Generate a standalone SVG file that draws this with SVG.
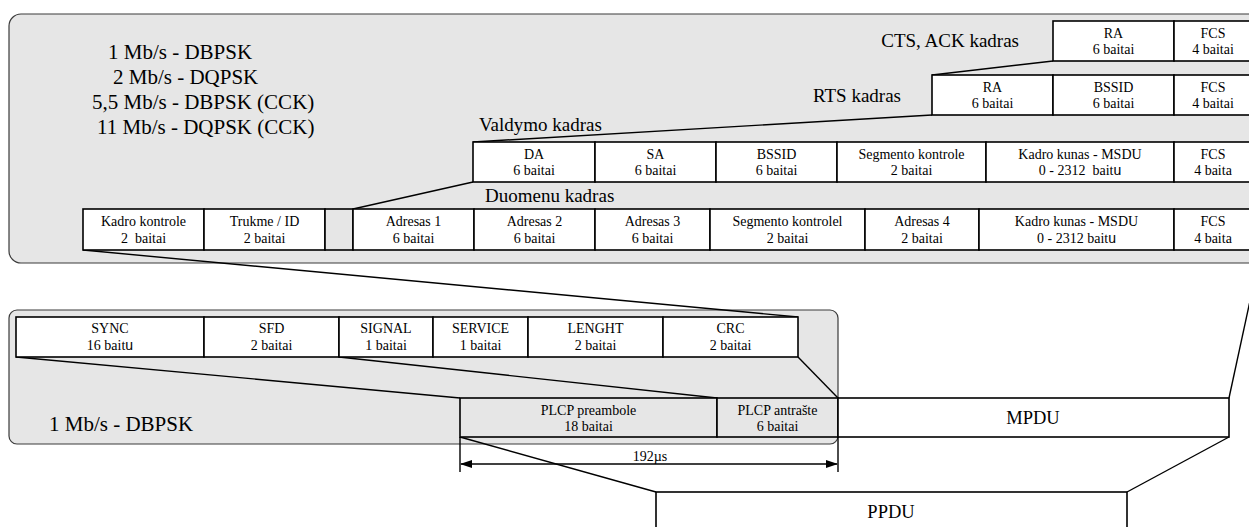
<svg xmlns="http://www.w3.org/2000/svg" width="1249" height="527" viewBox="0 0 1249 527">
<defs>
<style>
.panel{fill:#e6e6e6;stroke:#3a3a3a;stroke-width:1.2}
.box{fill:#ffffff;stroke:#000;stroke-width:1.6}
.gbox{fill:#e6e6e6;stroke:#000;stroke-width:1.6}
.ln{fill:none;stroke:#000;stroke-width:1.4}
text{font-family:"Liberation Serif","Times New Roman",serif;fill:#000}
.t{font-size:14px;text-anchor:middle}
.lbl{font-size:19px}
.big{font-size:21px}
.mid{font-size:18.5px;text-anchor:middle}
.u{font-family:"Liberation Sans",Arial,sans-serif}
</style>
<marker id="arr" markerWidth="12" markerHeight="8" refX="11" refY="4" orient="auto-start-reverse" markerUnits="userSpaceOnUse">
<path d="M0,0 L12,4 L0,8 Z" fill="#000"/>
</marker>
</defs>

<g id="panel-top">
<rect class="panel" x="9" y="14" width="1290" height="249" rx="12"/>
<text class="big" x="108" y="59">1 Mb/s - DBPSK</text>
<text class="big" x="113" y="84">2 Mb/s - DQPSK</text>
<text class="big" x="92" y="109">5,5 Mb/s - DBPSK (CCK)</text>
<text class="big" x="97" y="134">11 Mb/s - DQPSK (CCK)</text>
</g>
<g id="panel-bottom">
<rect class="panel" x="9" y="310" width="829" height="134" rx="8"/>
<text class="big" x="49" y="431">1 Mb/s - DBPSK</text>
</g>

<g id="connectors">
<line class="ln" x1="1053" y1="61" x2="932" y2="75"/>
<line class="ln" x1="932" y1="115" x2="473" y2="142"/>
<line class="ln" x1="473" y1="182" x2="353" y2="209"/>
<line class="ln" x1="83" y1="250" x2="798" y2="317"/>
<line class="ln" x1="16" y1="357" x2="460" y2="398"/>
<line class="ln" x1="339" y1="357" x2="717" y2="398"/>
<line class="ln" x1="798" y1="357" x2="838" y2="398"/>
<line class="ln" x1="1261" y1="250" x2="1229" y2="398"/>
<line class="ln" x1="460" y1="437" x2="656" y2="492"/>
<line class="ln" x1="1229" y1="437" x2="1127" y2="492"/>
</g>

<g id="cts-frame">
<text class="lbl" x="1019" y="47" text-anchor="end">CTS, ACK kadras</text>
<rect class="box" x="1053" y="21" width="121" height="40"/>
<text class="t" x="1113.5" y="38">RA</text><text class="t" x="1113.5" y="54">6 baitai</text>
<rect class="box" x="1174" y="21" width="90" height="40"/>
<text class="t" x="1213" y="38">FCS</text><text class="t" x="1213" y="54">4 baitai</text>
</g>

<g id="rts-frame">
<text class="lbl" x="901" y="102" text-anchor="end">RTS kadras</text>
<rect class="box" x="932" y="75" width="121" height="40"/>
<text class="t" x="992.5" y="92">RA</text><text class="t" x="992.5" y="108">6 baitai</text>
<rect class="box" x="1053" y="75" width="121" height="40"/>
<text class="t" x="1113.5" y="92">BSSID</text><text class="t" x="1113.5" y="108">6 baitai</text>
<rect class="box" x="1174" y="75" width="90" height="40"/>
<text class="t" x="1213" y="92">FCS</text><text class="t" x="1213" y="108">4 baitai</text>
</g>

<g id="valdymo-frame">
<text class="lbl" x="479" y="131">Valdymo kadras</text>
<rect class="box" x="473" y="142" width="122" height="40"/>
<text class="t" x="534" y="159">DA</text><text class="t" x="534" y="175">6 baitai</text>
<rect class="box" x="595" y="142" width="121" height="40"/>
<text class="t" x="655.5" y="159">SA</text><text class="t" x="655.5" y="175">6 baitai</text>
<rect class="box" x="716" y="142" width="121" height="40"/>
<text class="t" x="776.5" y="159">BSSID</text><text class="t" x="776.5" y="175">6 baitai</text>
<rect class="box" x="837" y="142" width="149" height="40"/>
<text class="t" x="911.5" y="159">Segmento kontrole</text><text class="t" x="911.5" y="175">2 baitai</text>
<rect class="box" x="986" y="142" width="188" height="40"/>
<text class="t" x="1080" y="159">Kadro kunas - MSDU</text><text class="t" x="1080" y="175" xml:space="preserve">0 - 2312  bait<tspan class="u">u</tspan></text>
<rect class="box" x="1174" y="142" width="90" height="40"/>
<text class="t" x="1213" y="159">FCS</text><text class="t" x="1213" y="175">4 baita</text>
</g>

<g id="duomenu-frame">
<text class="lbl" x="485" y="202">Duomenu kadras</text>
<rect class="box" x="83" y="209" width="121" height="41"/>
<text class="t" x="143.5" y="226">Kadro kontrole</text><text class="t" x="143.5" y="243" xml:space="preserve">2  baitai</text>
<rect class="box" x="204" y="209" width="121" height="41"/>
<text class="t" x="264.5" y="226">Trukme / ID</text><text class="t" x="264.5" y="243">2 baitai</text>
<rect class="gbox" x="325" y="209" width="28" height="41"/>
<rect class="box" x="353" y="209" width="121" height="41"/>
<text class="t" x="413.5" y="226">Adresas 1</text><text class="t" x="413.5" y="243">6 baitai</text>
<rect class="box" x="474" y="209" width="121" height="41"/>
<text class="t" x="534.5" y="226">Adresas 2</text><text class="t" x="534.5" y="243">6 baitai</text>
<rect class="box" x="595" y="209" width="115" height="41"/>
<text class="t" x="652.5" y="226">Adresas 3</text><text class="t" x="652.5" y="243">6 baitai</text>
<rect class="box" x="710" y="209" width="155" height="41"/>
<text class="t" x="787.5" y="226">Segmento kontrolel</text><text class="t" x="787.5" y="243">2 baitai</text>
<rect class="box" x="865" y="209" width="114" height="41"/>
<text class="t" x="922" y="226">Adresas 4</text><text class="t" x="922" y="243">2 baitai</text>
<rect class="box" x="979" y="209" width="195" height="41"/>
<text class="t" x="1076.5" y="226">Kadro kunas - MSDU</text><text class="t" x="1076.5" y="243">0 - 2312 bait<tspan class="u">u</tspan></text>
<rect class="box" x="1174" y="209" width="90" height="41"/>
<text class="t" x="1213" y="226">FCS</text><text class="t" x="1213" y="243">4 baita</text>
</g>

<g id="plcp-header">
<rect class="box" x="16" y="317" width="188" height="40"/>
<text class="t" x="110" y="333">SYNC</text><text class="t" x="110" y="350">16 bait<tspan class="u">u</tspan></text>
<rect class="box" x="204" y="317" width="135" height="40"/>
<text class="t" x="271.5" y="333">SFD</text><text class="t" x="271.5" y="350">2 baitai</text>
<rect class="box" x="339" y="317" width="94" height="40"/>
<text class="t" x="386" y="333">SIGNAL</text><text class="t" x="386" y="350">1 baitai</text>
<rect class="box" x="433" y="317" width="95" height="40"/>
<text class="t" x="480.5" y="333">SERVICE</text><text class="t" x="480.5" y="350">1 baitai</text>
<rect class="box" x="528" y="317" width="135" height="40"/>
<text class="t" x="595.5" y="333">LENGHT</text><text class="t" x="595.5" y="350">2 baitai</text>
<rect class="box" x="663" y="317" width="135" height="40"/>
<text class="t" x="730.5" y="333">CRC</text><text class="t" x="730.5" y="350">2 baitai</text>
</g>

<g id="plcp-row">
<rect class="gbox" x="460" y="398" width="257" height="39"/>
<text class="t" x="588.5" y="415">PLCP preambole</text><text class="t" x="588.5" y="431">18 baitai</text>
<rect class="gbox" x="717" y="398" width="121" height="39"/>
<text class="t" x="777.5" y="415">PLCP antrašte</text><text class="t" x="777.5" y="431">6 baitai</text>
</g>

<g id="mpdu">
<rect class="box" x="838" y="398" width="391" height="39"/>
<text class="mid" x="1033" y="424">MPDU</text>
</g>

<g id="dimension">
<line class="ln" x1="460" y1="437" x2="460" y2="472" stroke-width="1"/>
<line class="ln" x1="838" y1="437" x2="838" y2="472" stroke-width="1"/>
<line class="ln" x1="461" y1="464" x2="837" y2="464" stroke-width="1.2" marker-start="url(#arr)" marker-end="url(#arr)"/>
<text class="t" x="650" y="461" font-size="15">192µs</text>
</g>

<g id="ppdu">
<rect class="box" x="656" y="492" width="471" height="50"/>
<text class="mid" x="891" y="518">PPDU</text>
</g>
</svg>
